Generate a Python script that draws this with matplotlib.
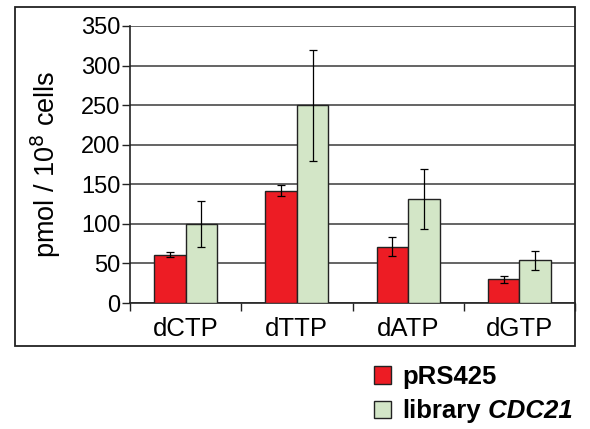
import matplotlib
matplotlib.use("Agg")
import matplotlib.pyplot as plt
import numpy as np
from matplotlib.patches import Rectangle

plt.rcParams['font.family'] = ['Liberation Sans', 'DejaVu Sans']

categories = ["dCTP", "dTTP", "dATP", "dGTP"]
series_names = ["pRS425", "library"]
pRS425_vals = [61, 142, 71, 30]
pRS425_err = [3, 7, 12, 4.5]
library_vals = [100, 250, 131, 54]
library_err = [29, 70, 38, 12]
yticks = [0, 50, 100, 150, 200, 250, 300, 350]

red = "#ED1C24"
green = "#D3E6C7"

fig = plt.figure(figsize=(5.9, 4.29), dpi=100)

# outer frame around the plot area
fig.patches.append(Rectangle((15 / 590, 1 - 346 / 429), 560 / 590, 339 / 429,
                             transform=fig.transFigure, fill=False,
                             edgecolor="#222222", linewidth=1.3, zorder=0))

ax = fig.add_axes([130 / 590, 1 - 303 / 429, 445 / 590, 277 / 429])
ax.set_facecolor("none")

x = np.arange(len(categories))
w = 0.283
err_kw = dict(ecolor="black", elinewidth=0.9, capsize=3, capthick=0.9)
ax.bar(x - w / 2, pRS425_vals, w, yerr=pRS425_err, color=red,
       edgecolor="#222222", linewidth=1.0, error_kw=err_kw, zorder=3)
ax.bar(x + w / 2, library_vals, w, yerr=library_err, color=green,
       edgecolor="#222222", linewidth=1.0, error_kw=err_kw, zorder=3)

ax.set_xlim(-0.5, len(categories) - 0.5)
ax.set_ylim(0, 350)
ax.set_yticks(yticks)
ax.yaxis.grid(True, color="#4a4a4a", linewidth=1.2, zorder=0)
ax.set_axisbelow(True)

# category boundaries get the tick marks, centres get the labels
ax.set_xticks(np.arange(-0.5, len(categories) + 0.5, 1.0))
ax.set_xticklabels([])
ax.set_xticks(x, minor=True)
ax.set_xticklabels(categories, minor=True, fontsize=18.5)
ax.tick_params(axis="x", which="major", direction="out", length=6, width=1, color="#222222")
ax.tick_params(axis="x", which="minor", length=0, pad=10)
ax.tick_params(axis="y", direction="out", length=6, width=1, labelsize=17, pad=1, color="#222222")

for s in ["top", "right"]:
    ax.spines[s].set_visible(False)
for s in ["left", "bottom"]:
    ax.spines[s].set_color("#222222")
    ax.spines[s].set_linewidth(1.2)

ax.set_ylabel("pmol / 10$^8$ cells", fontsize=19.5, labelpad=13)

handles = [Rectangle((0, 0), 1, 1, facecolor=red, edgecolor="#222222", linewidth=1.0),
           Rectangle((0, 0), 1, 1, facecolor=green, edgecolor="#222222", linewidth=1.0)]
leg = fig.legend(handles, series_names, loc="upper left",
                 bbox_to_anchor=(374 / 590, 1 - 365 / 429), frameon=False,
                 prop=dict(weight="bold", size=18.5), handlelength=0.65, handleheight=0.65,
                 handletextpad=0.45, labelspacing=0.4, borderaxespad=0, borderpad=0)
lib_text = leg.get_texts()[1]
fig.add_artist(plt.Annotation(" CDC21", xy=(1, 0), xycoords=lib_text,
                              fontsize=18.5, fontweight="bold", fontstyle="italic",
                              va="bottom", ha="left", zorder=10))

fig.savefig("out.png", dpi=100)
